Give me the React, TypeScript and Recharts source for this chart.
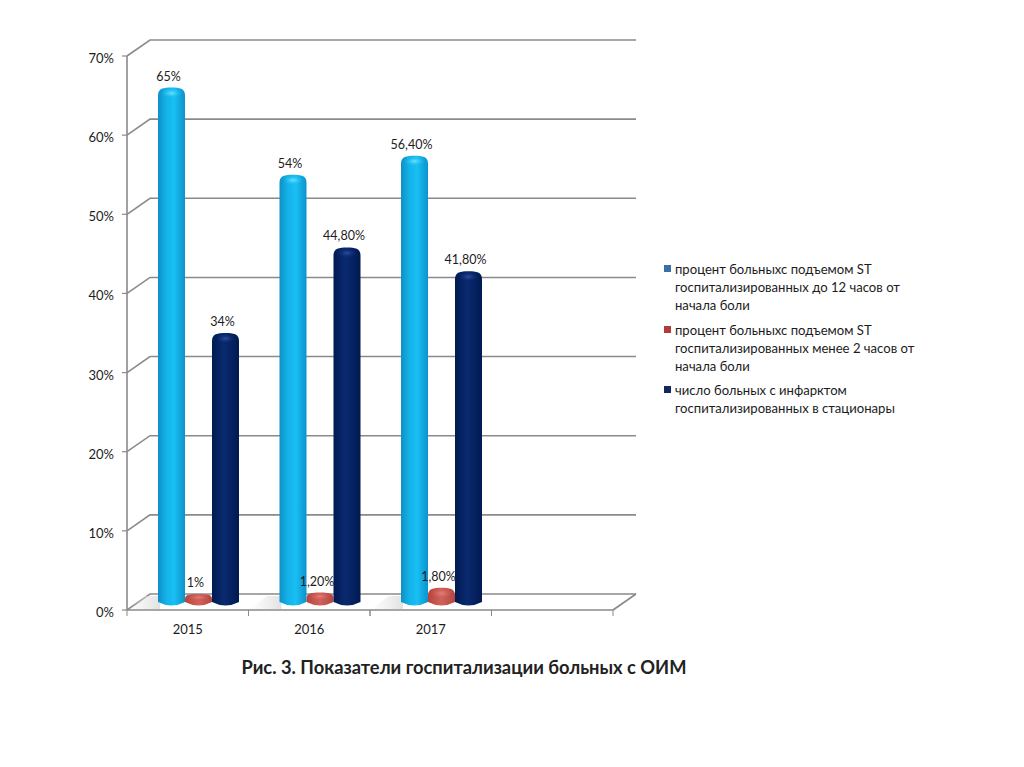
import { BarChart, Bar, XAxis, YAxis, CartesianGrid, Legend, LabelList } from 'recharts';

const categories = ['2015', '2016', '2017', ''];
const within12h = [65, 54, 56.4, null];
const within2h = [1, 1.2, 1.8, null];
const infarctTotal = [34, 44.8, 41.8, null];
const yTicks = [0, 10, 20, 30, 40, 50, 60, 70];
const seriesNames = [
  'процент больныхс подъемом ST госпитализированных до 12 часов от начала боли',
  'процент больныхс подъемом ST госпитализированных менее 2 часов от начала боли',
  'число больных с инфарктом госпитализированных в стационары',
];
const chartTitle = 'Рис. 3. Показатели госпитализации больных с ОИМ';

const data = categories.map((year, i) => ({
  year,
  within12h: within12h[i],
  within2h: within2h[i],
  infarctTotal: infarctTotal[i],
}));

const FONT = 'Lato, "Open Sans", sans-serif';
const TEXT = '#1c1c1c';
const AXIS = '#8a8a8a';
const legendColors = ['#3b6fa8', '#b23a3a', '#12275e'];

// depth of the fake 3d box
const WALL_DX = 23;
const WALL_DY = -16;
const BAR_DX = 11;
const BAR_DY = -8;
const PLOT_BOTTOM = 610;

const fmt = (v: number) =>
  Number.isInteger(v) ? `${v}%` : `${v.toFixed(2).replace('.', ',')}%`;

function WallLine({ x1, y1, x2 }: any) {
  const backY = y1 + WALL_DY;
  const isFloor = Math.abs(y1 - PLOT_BOTTOM) < 1;
  return (
    <g>
      <polyline
        points={`${x1},${y1} ${x1 + WALL_DX},${backY} ${x2 + WALL_DX},${backY}`}
        fill="none"
        stroke={AXIS}
        strokeWidth={1.6}
      />
      {isFloor && (
        <line x1={x2} y1={y1} x2={x2 + WALL_DX} y2={backY} stroke={AXIS} strokeWidth={1.6} />
      )}
    </g>
  );
}

function Cylinder({ x, y, width, height, value, gradient, glow, shadow }: any) {
  if (value == null) return null;
  const left = x + BAR_DX;
  const top = y + BAR_DY;
  const bottom = y + height + BAR_DY;
  const ry = Math.min(8, Math.max(4, height * 0.6));
  const path =
    `M${left} ${top + ry} C${left} ${top + ry * 0.1} ${left + width * 0.2} ${top} ${left + width / 2} ${top} ` +
    `C${left + width * 0.8} ${top} ${left + width} ${top + ry * 0.1} ${left + width} ${top + ry} ` +
    `L${left + width} ${bottom} Q${left + width / 2} ${bottom + 7} ${left} ${bottom} Z`;
  return (
    <g>
      {shadow && (
        <polygon
          points={`${left - 30},${PLOT_BOTTOM - 1} ${left + 2},${PLOT_BOTTOM - 1} ${left + 2},${PLOT_BOTTOM - 14} ${left - 12},${PLOT_BOTTOM - 14}`}
          fill="url(#floorShadow)"
        />
      )}
      <path d={path} fill={`url(#${gradient})`} />
      <ellipse cx={left + width / 2} cy={top + ry * 0.7} rx={width * 0.38} ry={ry * 0.6} fill={`url(#${glow})`} />
    </g>
  );
}

function ValueLabel({ x, y, width, value }: any) {
  if (value == null) return null;
  return (
    <text
      x={x + width / 2 + 8}
      y={y + BAR_DY - 7}
      textAnchor="middle"
      fontFamily={FONT}
      fontSize={12.5}
      fill={TEXT}
    >
      {fmt(Number(value))}
    </text>
  );
}

function ValueTick({ x, y, payload }: any) {
  return (
    <text x={x} y={y + 7} textAnchor="end" fontFamily={FONT} fontSize={13} fill={TEXT}>
      {`${payload.value}%`}
    </text>
  );
}

function YearTick({ x, y, payload }: any) {
  const half = payload.offset ?? 60.75;
  return (
    <g>
      <line x1={x - half} y1={y - 8} x2={x - half} y2={y - 2} stroke={AXIS} />
      <line x1={x + half} y1={y - 8} x2={x + half} y2={y - 2} stroke={AXIS} />
      <text x={x} y={y + 16} textAnchor="middle" fontFamily={FONT} fontSize={13} fill={TEXT}>
        {payload.value}
      </text>
    </g>
  );
}

function LegendBlock({ payload }: any) {
  return (
    <div style={{ fontFamily: FONT, fontSize: 13.1, lineHeight: '18px', color: TEXT }}>
      {(payload || []).map((item: any, i: number) => (
        <div key={i} style={{ position: 'relative', paddingLeft: 11, marginBottom: 6.5 }}>
          <span
            style={{
              position: 'absolute',
              left: 0,
              top: 5,
              width: 7,
              height: 7,
              background: legendColors[i],
            }}
          />
          {item.value}
        </div>
      ))}
    </div>
  );
}

export default function App() {
  return (
    <div style={{ position: 'absolute', left: 0, top: 0, width: 1024, height: 767, background: '#fff' }}>
      <BarChart
        width={1024}
        height={767}
        data={data}
        margin={{ top: 56, right: 411, bottom: 127, left: 60 }}
        barSize={27}
        barGap={0}
      >
        <defs>
          <linearGradient id="cyanBar" x1="0" y1="0" x2="1" y2="0">
            <stop offset="0%" stopColor="#0f8fc6" />
            <stop offset="30%" stopColor="#13b2e8" />
            <stop offset="60%" stopColor="#19bff3" />
            <stop offset="100%" stopColor="#0c93cc" />
          </linearGradient>
          <linearGradient id="redBar" x1="0" y1="0" x2="1" y2="0">
            <stop offset="0%" stopColor="#b8443c" />
            <stop offset="50%" stopColor="#d0625a" />
            <stop offset="100%" stopColor="#b5463f" />
          </linearGradient>
          <linearGradient id="navyBar" x1="0" y1="0" x2="1" y2="0">
            <stop offset="0%" stopColor="#001a52" />
            <stop offset="45%" stopColor="#0a2a70" />
            <stop offset="100%" stopColor="#001a50" />
          </linearGradient>
          <radialGradient id="cyanGlow">
            <stop offset="0%" stopColor="#6fe0ff" />
            <stop offset="100%" stopColor="#19bff3" stopOpacity={0} />
          </radialGradient>
          <radialGradient id="redGlow">
            <stop offset="0%" stopColor="#e0807a" />
            <stop offset="100%" stopColor="#d0625a" stopOpacity={0} />
          </radialGradient>
          <radialGradient id="navyGlow">
            <stop offset="0%" stopColor="#2c4f9c" />
            <stop offset="100%" stopColor="#0a2a70" stopOpacity={0} />
          </radialGradient>
          <linearGradient id="floorShadow" x1="0" y1="0" x2="1" y2="0">
            <stop offset="0%" stopColor="#e6e6e6" stopOpacity={0} />
            <stop offset="100%" stopColor="#e2e2e2" />
          </linearGradient>
        </defs>
        <CartesianGrid vertical={false} horizontal={(p: any) => <WallLine key={p.key} {...p} />} />
        <XAxis
          dataKey="year"
          axisLine={{ stroke: AXIS, strokeWidth: 1.6 }}
          tickLine={false}
          interval={0}
          tick={<YearTick />}
          height={30}
        />
        <YAxis
          type="number"
          domain={[0, 70]}
          ticks={yTicks}
          width={67}
          axisLine={{ stroke: AXIS, strokeWidth: 1.6 }}
          tickLine={{ stroke: AXIS, strokeWidth: 1.2 }}
          tickSize={5}
          tickMargin={8}
          tick={<ValueTick />}
        />
        <Legend
          layout="horizontal"
          verticalAlign="middle"
          align="center"
          content={<LegendBlock />}
          wrapperStyle={{ position: 'absolute', left: 664, top: 260, width: 256, right: 'auto', bottom: 'auto' }}
        />
        <Bar
          dataKey="within12h"
          name={seriesNames[0]}
          fill="#19bff3"
          isAnimationActive={false}
          shape={(p: any) => <Cylinder {...p} gradient="cyanBar" glow="cyanGlow" shadow />}
        >
          <LabelList dataKey="within12h" content={<ValueLabel />} />
        </Bar>
        <Bar
          dataKey="within2h"
          name={seriesNames[1]}
          fill="#d0625a"
          isAnimationActive={false}
          shape={(p: any) => <Cylinder {...p} gradient="redBar" glow="redGlow" />}
        >
          <LabelList dataKey="within2h" content={<ValueLabel />} />
        </Bar>
        <Bar
          dataKey="infarctTotal"
          name={seriesNames[2]}
          fill="#0a2a70"
          isAnimationActive={false}
          shape={(p: any) => <Cylinder {...p} gradient="navyBar" glow="navyGlow" />}
        >
          <LabelList dataKey="infarctTotal" content={<ValueLabel />} />
        </Bar>
      </BarChart>
      <div
        style={{
          position: 'absolute',
          left: 0,
          width: 928,
          top: 656,
          textAlign: 'center',
          fontFamily: FONT,
          fontWeight: 700,
          fontSize: 18.3,
          lineHeight: '22px',
          color: '#222',
        }}
      >
        {chartTitle}
      </div>
    </div>
  );
}
